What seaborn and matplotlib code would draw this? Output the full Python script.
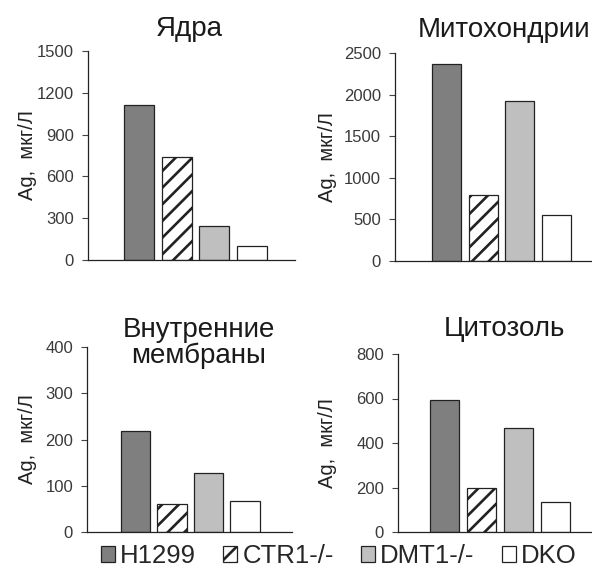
import matplotlib
matplotlib.use("Agg")
import matplotlib.pyplot as plt
import seaborn as sns
from matplotlib.patches import Patch

groups = ["H1299", "CTR1-/-", "DMT1-/-", "DKO"]
titles = ["Ядра", "Митохондрии", "Внутренние\nмембраны", "Цитозоль"]
nuclei = [1115, 740, 245, 100]
mito = [2370, 790, 1920, 550]
membranes = [218, 60, 128, 67]
cytosol = [592, 198, 467, 137]
ylabel = "Ag,  мкг/Л"

sns.set_theme(style="white")
plt.rcParams["font.family"] = ["Liberation Sans", "DejaVu Sans"]
plt.rcParams["hatch.linewidth"] = 1.9
plt.rcParams["hatch.color"] = "black"

W, H = 592, 578
fig = plt.figure(figsize=(W / 100, H / 100), dpi=100)

colors = ["#7f7f7f", "#ffffff", "#bfbfbf", "#ffffff"]
palette = dict(zip(groups, colors))

# axes boxes in pixels: left, top, right, bottom
boxes = [(88, 51, 295, 260), (395, 53, 600, 261), (87, 347, 292, 532), (398, 354, 600, 532)]
datasets = [nuclei, mito, membranes, cytosol]
yticks = [[0, 300, 600, 900, 1200, 1500], [0, 500, 1000, 1500, 2000, 2500],
          [0, 100, 200, 300, 400], [0, 200, 400, 600, 800]]
xlims = [(-1.35, 4.14), (-1.42, 4.2), (-1.33, 4.29), (-1.26, 4.2)]
label_x = [37, 337, 37, 337]
# title anchor: x, baseline y, horizontal alignment
title_pos = [(189, 36, "center"), (418, 37, "left"), (199, 363, "center"), (504, 336, "center")]

for i in range(4):
    l, t, r, b = boxes[i]
    ax = fig.add_axes([l / W, 1 - b / H, (r - l) / W, (b - t) / H])
    sns.barplot(x=groups, y=datasets[i], hue=groups, palette=palette, order=groups,
                hue_order=groups, edgecolor="#222222", linewidth=0.9, width=0.8,
                legend=False, ax=ax)
    for p, g in zip(ax.patches, groups):
        if g == "CTR1-/-":
            p.set_hatch("//")
    ax.set_ylim(0, yticks[i][-1])
    ax.set_yticks(yticks[i])
    ax.set_xlim(*xlims[i])
    ax.set_xticks([])
    ax.set_xlabel("")
    for s in ["top", "right"]:
        ax.spines[s].set_visible(False)
    for s in ["left", "bottom"]:
        ax.spines[s].set_color("#222222")
        ax.spines[s].set_linewidth(0.9)
    ax.tick_params(axis="y", left=True, length=4, width=0.8, color="#444444",
                   labelsize=12, pad=6, labelcolor="#3a3a3a")
    ax.set_ylabel(ylabel, fontsize=14.5, color="#222222")
    ax.yaxis.set_label_coords((label_x[i] - l) / (r - l), 0.5)
    tx, ty, ha = title_pos[i]
    fig.text(tx / W, 1 - ty / H, titles[i], ha=ha, va="baseline", fontsize=20,
             color="#1a1a1a", linespacing=1.0, multialignment="center")

handles = [Patch(facecolor=c, edgecolor="#222222", linewidth=0.9, hatch=("//" if g == "CTR1-/-" else None))
           for g, c in zip(groups, colors)]
fig.legend(handles=handles, labels=groups, loc="center left", bbox_to_anchor=(101 / W, 1 - 556 / H),
           ncol=4, frameon=False, fontsize=18.5, handlelength=0.55, handleheight=0.55,
           handletextpad=0.2, columnspacing=1.05, borderpad=0, borderaxespad=0)

fig.savefig("out.png", dpi=100)
